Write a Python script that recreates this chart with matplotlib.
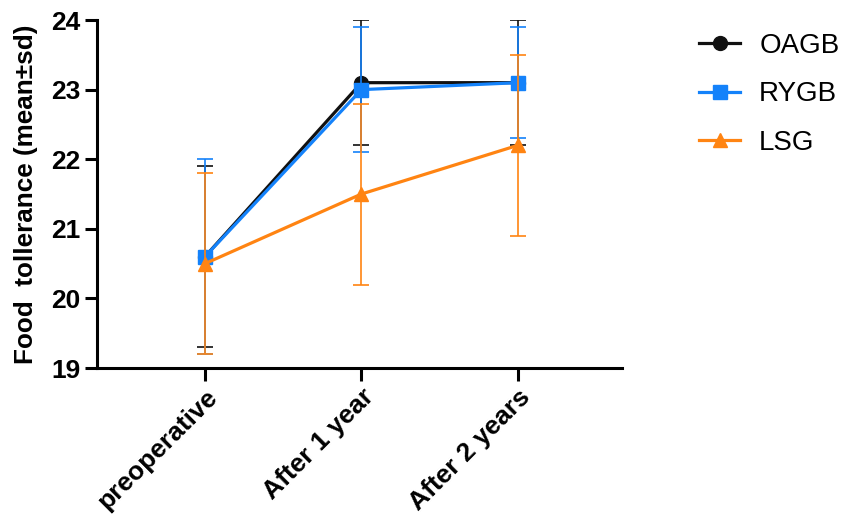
import matplotlib
matplotlib.use("Agg")
import matplotlib.pyplot as plt
from matplotlib.lines import Line2D
import numpy as np

plt.rcParams['font.family'] = ['Liberation Sans', 'DejaVu Sans']

timepoints = ["preoperative", "After 1 year", "After 2 years"]
groups = ["OAGB", "RYGB", "LSG"]

oagb_mean = [20.6, 23.1, 23.1]
oagb_sd = [1.3, 0.9, 0.9]
rygb_mean = [20.6, 23.0, 23.1]
rygb_sd = [1.4, 0.9, 0.8]
lsg_mean = [20.5, 21.5, 22.2]
lsg_sd = [1.3, 1.3, 1.3]

colors = ["#111111", "#1482FA", "#FF8412"]
markers = ["o", "s", "^"]

fig = plt.figure(figsize=(8.56, 5.19), dpi=100)
ax = fig.add_axes([0.1133, 0.2909, 0.6133, 0.6705])

x = np.arange(len(timepoints))
series = [(oagb_mean, oagb_sd), (rygb_mean, rygb_sd), (lsg_mean, lsg_sd)]
handles = []
for i, (m, s) in enumerate(series):
    ax.errorbar(x, m, yerr=s, color=colors[i], marker=markers[i],
                markersize=10, linewidth=2.3, elinewidth=1.2,
                capsize=5.5, capthick=1.2, zorder=2 + i)
    handles.append(Line2D([], [], color=colors[i], marker=markers[i],
                          markersize=10, linewidth=2.3, label=groups[i]))

ax.set_xlim(-0.69, 2.665)
ax.set_ylim(19, 24)
ax.set_yticks([19, 20, 21, 22, 23, 24])
ax.set_xticks(x)
ax.set_xticklabels(timepoints, rotation=45, ha="right", rotation_mode="anchor")

for side in ["top", "right"]:
    ax.spines[side].set_visible(False)
for side in ["left", "bottom"]:
    ax.spines[side].set_linewidth(2.2)
ax.tick_params(axis="both", width=2.2, length=9, labelsize=19, pad=3)
for lab in ax.get_xticklabels() + ax.get_yticklabels():
    lab.set_fontweight("bold")

ax.set_ylabel("Food  tollerance (mean\u00b1sd)", fontsize=18.8, fontweight="bold", labelpad=9)

leg = ax.legend(handles=handles, loc="upper left", bbox_to_anchor=(1.10, 1.035), frameon=False,
                fontsize=20, handlelength=1.45, labelspacing=0.81, handletextpad=0.7)

fig.savefig("out.png", dpi=100)
